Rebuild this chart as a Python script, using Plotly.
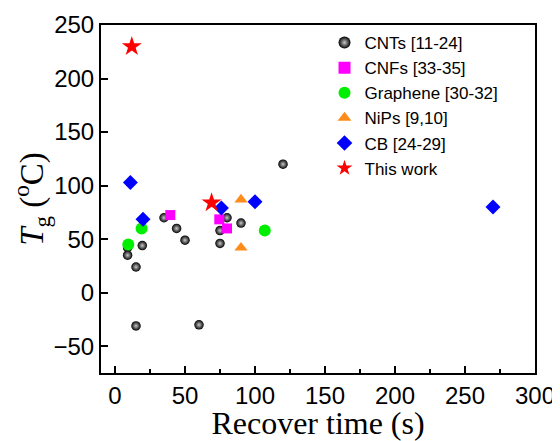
import plotly.graph_objects as go

cnt_x = [120, 35, 44, 50, 9, 9, 19.5, 15, 15, 60, 75, 75, 80, 90]
cnt_y = [120, 70, 60, 49, 42, 35, 44, 24, -31, -30, 58, 46, 70, 65]
cnf_x = [39.5, 74.5, 80]
cnf_y = [72.5, 68.5, 60]
gra_x = [9.5, 19, 107]
gra_y = [45, 60, 58]
nip_x = [90, 90]
nip_y = [87, 42]
cb_x = [11, 20, 76, 100, 270]
cb_y = [103, 68.5, 79, 85, 80]
tw_x = [12, 69]
tw_y = [230, 84]

fig = go.Figure()
fig.add_trace(go.Scatter(x=cnt_x, y=cnt_y, mode="markers", name="CNTs [11-24]",
    marker=dict(symbol="circle", size=9.5, color="black",
                gradient=dict(type="radial", color="#c8c8c8"),
                line=dict(width=0))))
fig.add_trace(go.Scatter(x=cnf_x, y=cnf_y, mode="markers", name="CNFs [33-35]",
    marker=dict(symbol="square", size=10, color="#ff00ff", line=dict(width=0))))
fig.add_trace(go.Scatter(x=gra_x, y=gra_y, mode="markers", name="Graphene [30-32]",
    marker=dict(symbol="circle", size=12, color="#00ee00", line=dict(width=0))))
fig.add_trace(go.Scatter(x=nip_x, y=nip_y, mode="markers", name="NiPs [9,10]",
    marker=dict(symbol="triangle-up", size=11.5, color="#ff8c1a", line=dict(width=0))))
fig.add_trace(go.Scatter(x=cb_x, y=cb_y, mode="markers", name="CB [24-29]",
    marker=dict(symbol="diamond", size=11.5, color="#0000ff", line=dict(width=0))))
fig.add_trace(go.Scatter(x=tw_x, y=tw_y, mode="markers", name="This work",
    marker=dict(symbol="star", size=15, color="#ff0000", line=dict(width=0))))

fig.update_layout(
    width=552, height=433,
    margin=dict(l=93, r=25, t=17, b=68),
    paper_bgcolor="white", plot_bgcolor="white",
    font=dict(family="Liberation Sans, Arial", color="black"),
    showlegend=True,
    legend=dict(x=0.515, y=1.0, xanchor="left", yanchor="top",
                bgcolor="rgba(0,0,0,0)", font=dict(size=17, family="Liberation Sans, Arial"),
                tracegroupgap=0, itemsizing="constant"),
    xaxis=dict(range=[-10, 300], tickvals=[0, 50, 100, 150, 200, 250, 300],
               ticks="inside", ticklen=7, tickwidth=2, tickcolor="black",
               minor=dict(tickvals=[25, 75, 125, 175, 225, 275], ticks="inside", ticklen=4, tickwidth=1.5, tickcolor="black"),
               showline=True, linewidth=2, linecolor="black", mirror=True,
               showgrid=False, zeroline=False, automargin=False,
               ticklabeloverflow="allow",
               tickfont=dict(size=24, family="Liberation Sans, Arial"),
               title=dict(text="Recover time (s)", font=dict(size=32, family="Liberation Serif, Times New Roman"), standoff=22)),
    yaxis=dict(range=[-75, 250], tickvals=[-50, 0, 50, 100, 150, 200, 250],
               ticks="inside", ticklen=7, tickwidth=2, tickcolor="black",
               showline=True, linewidth=2, linecolor="black", mirror=True,
               showgrid=False, zeroline=False, automargin=False,
               ticklabeloverflow="allow",
               tickfont=dict(size=24, family="Liberation Sans, Arial"),
               title=dict(text="<i>T</i><sub>g</sub> (<sup>o</sup>C)", font=dict(size=33, family="Liberation Serif, Times New Roman"), standoff=16)),
)

fig.write_html("out.html")
